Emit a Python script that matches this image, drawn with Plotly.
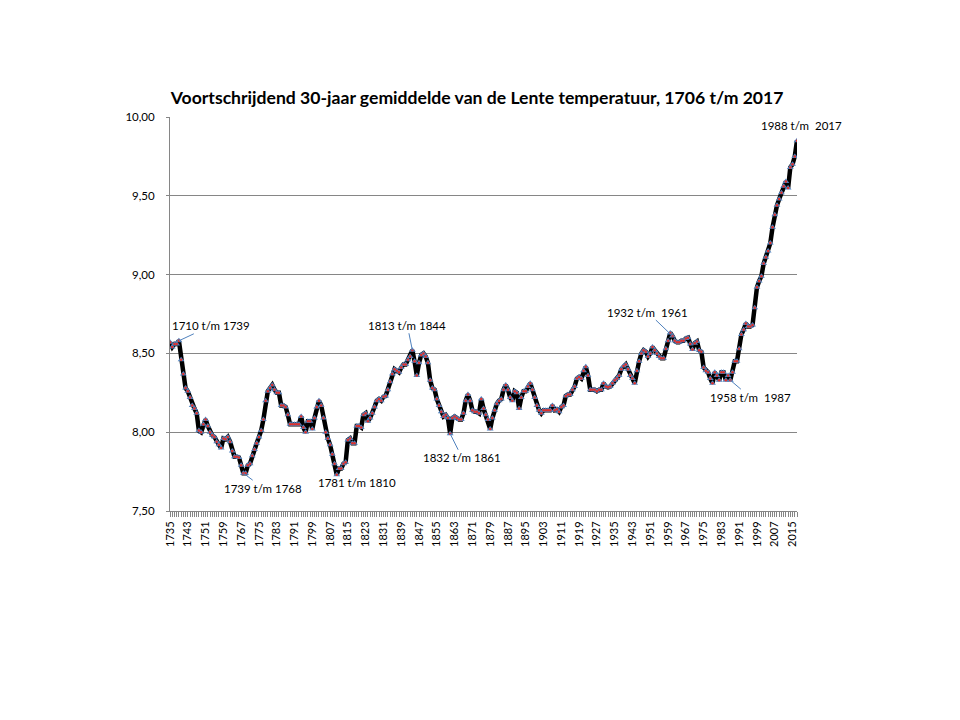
import plotly.graph_objects as go

years = list(range(1735, 2018))
temps = [
    8.57, 8.54, 8.56, 8.56, 8.58, 8.46, 8.37, 8.28, 8.26, 8.22,   # 1735-1744
    8.17, 8.15, 8.12, 8.01, 8.00, 8.05, 8.08, 8.04, 8.00, 7.98,   # 1745-1754
    7.97, 7.94, 7.92, 7.90, 7.96, 7.955, 7.97, 7.94, 7.88, 7.845, # 1755-1764
    7.845, 7.84, 7.79, 7.74, 7.74, 7.79, 7.80, 7.85, 7.89, 7.93,  # 1765-1774
    7.97, 8.01, 8.08, 8.20, 8.26, 8.28, 8.30, 8.27, 8.25, 8.25,   # 1775-1784
    8.17, 8.17, 8.16, 8.11, 8.05, 8.05, 8.05, 8.05, 8.05, 8.10,   # 1785-1794
    8.03, 8.00, 8.07, 8.07, 8.02, 8.09, 8.16, 8.20, 8.17, 8.09,   # 1795-1804
    8.00, 7.96, 7.92, 7.86, 7.80, 7.73, 7.77, 7.77, 7.80, 7.81,   # 1805-1814
    7.95, 7.96, 7.93, 7.93, 8.04, 8.04, 8.03, 8.11, 8.12, 8.07,   # 1815-1824
    8.09, 8.12, 8.16, 8.20, 8.21, 8.20, 8.225, 8.23, 8.27, 8.32,  # 1825-1834
    8.37, 8.40, 8.39, 8.38, 8.41, 8.43, 8.43, 8.46, 8.48, 8.52,   # 1835-1844
    8.45, 8.36, 8.44, 8.49, 8.50, 8.48, 8.44, 8.33, 8.28, 8.27,   # 1845-1854
    8.21, 8.17, 8.13, 8.10, 8.11, 8.09, 7.99, 8.09, 8.10, 8.09,   # 1855-1864
    8.08, 8.08, 8.12, 8.20, 8.24, 8.20, 8.14, 8.13, 8.13, 8.12,   # 1865-1874
    8.21, 8.15, 8.11, 8.08, 8.02, 8.09, 8.14, 8.18, 8.20, 8.21,   # 1875-1884
    8.27, 8.30, 8.27, 8.22, 8.20, 8.26, 8.25, 8.15, 8.22, 8.26,   # 1885-1894
    8.26, 8.29, 8.31, 8.27, 8.22, 8.17, 8.14, 8.12, 8.14, 8.14,   # 1895-1904
    8.14, 8.14, 8.17, 8.14, 8.145, 8.13, 8.16, 8.17, 8.23, 8.24,  # 1905-1914
    8.24, 8.27, 8.29, 8.34, 8.35, 8.34, 8.39, 8.415, 8.36, 8.27,  # 1915-1924
    8.27, 8.27, 8.26, 8.27, 8.27, 8.31, 8.29, 8.285, 8.29, 8.31,  # 1925-1934
    8.33, 8.34, 8.36, 8.40, 8.42, 8.43, 8.40, 8.36, 8.34, 8.31,   # 1935-1944
    8.39, 8.45, 8.50, 8.52, 8.51, 8.48, 8.50, 8.54, 8.52, 8.50,   # 1945-1954
    8.48, 8.47, 8.47, 8.53, 8.58, 8.63, 8.61, 8.58, 8.57, 8.57,   # 1955-1964
    8.58, 8.58, 8.595, 8.60, 8.56, 8.525, 8.565, 8.575, 8.52, 8.51,  # 1965-1974
    8.41, 8.39, 8.38, 8.34, 8.31, 8.38, 8.36, 8.33, 8.38, 8.38,   # 1975-1984
    8.33, 8.36, 8.33, 8.38, 8.45, 8.45, 8.53, 8.62, 8.65, 8.69,   # 1985-1994
    8.67, 8.67, 8.68, 8.79, 8.92, 8.96, 8.99, 9.07, 9.11, 9.15,   # 1995-2004
    9.20, 9.30, 9.38, 9.44, 9.48, 9.52, 9.56, 9.59, 9.55, 9.68,   # 2005-2014
    9.70, 9.75, 9.85,                                             # 2015-2017
]
assert len(temps) == len(years)

x_tick_years = list(range(1735, 2016, 8))
x_tick_labels = [str(y) for y in x_tick_years]
y_tick_vals = [7.5, 8.0, 8.5, 9.0, 9.5, 10.0]
y_tick_labels = ["7,50", "8,00", "8,50", "9,00", "9,50", "10,00"]

title_text = "Voortschrijdend 30-jaar gemiddelde van de Lente temperatuur, 1706 t/m 2017"

# labelled extremes
label_years = [1739, 1768, 1810, 1844, 1861, 1961, 1987, 2017]
label_texts = ["1710 t/m 1739", "1739 t/m 1768", "1781 t/m 1810", "1813 t/m 1844",
               "1832 t/m 1861", "1932 t/m  1961", "1958 t/m  1987", "1988 t/m  2017"]
label_ax = [32, 20, 20, -5, 12, -25, 20, 4]
label_ay = [-15, 15, 8, -25, 24, -24, 17, -15]
label_arrow = [True, True, False, True, True, True, True, False]

FONT = "Lato"
GRID = "#868686"

fig = go.Figure()
fig.add_trace(go.Scatter(
    x=years, y=temps, mode="lines",
    line=dict(color="black", width=4.5), hoverinfo="skip", showlegend=False))
fig.add_trace(go.Scatter(
    x=years, y=temps, mode="markers",
    marker=dict(symbol="triangle-up", size=6, color="#4F81BD"),
    showlegend=False))
fig.add_trace(go.Scatter(
    x=years, y=temps, mode="markers",
    marker=dict(symbol="circle", size=2.5, color="#E0302A"),
    showlegend=False))

for yr, txt, ax, ay, arr in zip(label_years, label_texts, label_ax, label_ay, label_arrow):
    v = temps[years.index(yr)]
    fig.add_annotation(
        x=yr, y=v, text=txt, showarrow=arr, ax=ax if arr else 0, ay=ay if arr else 0,
        xshift=0 if arr else ax, yshift=0 if arr else -ay,
        arrowhead=0, arrowwidth=1, arrowcolor="#4F81BD",
        font=dict(family=FONT, size=11.5, color="black"))

fig.update_layout(
    width=960, height=720,
    paper_bgcolor="white", plot_bgcolor="white",
    margin=dict(l=170, r=163, t=117, b=209),
    font=dict(family=FONT, color="black"),
    title=dict(text="<b>" + title_text + "</b>", x=0.497, xanchor="center",
               y=1 - 98 / 720, yanchor="middle", yref="container",
               font=dict(family=FONT, size=17.6, color="black")),
    showlegend=False,
)
fig.update_xaxes(
    range=[1735, 2017], tickmode="array", tickvals=x_tick_years, ticktext=x_tick_labels,
    tickangle=-90, tickfont=dict(family=FONT, size=11, color="black"),
    showline=True, linecolor=GRID, linewidth=1, showgrid=False, zeroline=False,
    ticks="outside", ticklen=5, tickcolor=GRID,
    minor=dict(dtick=1, tick0=1735, ticks="outside", ticklen=5, tickcolor=GRID, showgrid=False),
)
fig.update_yaxes(
    range=[7.5, 10.0], tickmode="array", tickvals=y_tick_vals, ticktext=y_tick_labels,
    tickfont=dict(family=FONT, size=11.5, color="black"),
    showline=True, linecolor=GRID, linewidth=1, showgrid=True, gridcolor=GRID, gridwidth=1,
    zeroline=False, ticks="outside", ticklen=3, tickcolor=GRID, ticklabelstandoff=9,
)

fig.write_html("out.html")
